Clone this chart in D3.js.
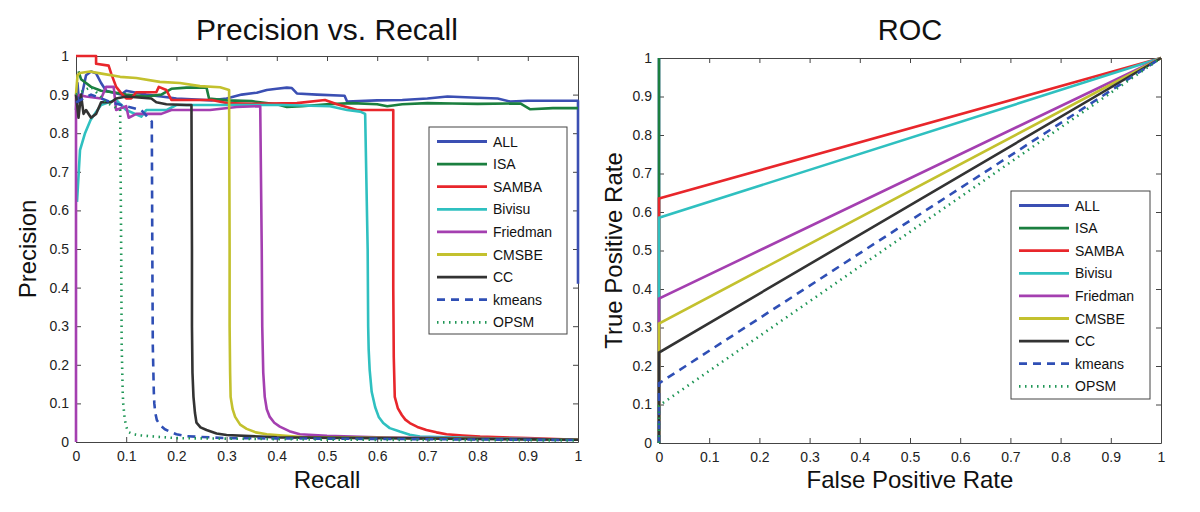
<!DOCTYPE html>
<html><head><meta charset="utf-8">
<script src="https://cdn.jsdelivr.net/npm/d3@7"></script>
<style>body{margin:0;background:#fff} svg{font-family:"Liberation Sans",Arial,sans-serif}</style>
</head><body><svg id="c" width="1200" height="512"></svg>
<script>
const seriesNames = ["ALL","ISA","SAMBA","Bivisu","Friedman","CMSBE","CC","kmeans","OPSM"];
const seriesColors = ["#3b4fb3","#1b7f3f","#e8262b","#2fc0c0","#a43fb0","#c3c12e","#333333","#2f4fb5","#1f9656"];
const seriesDash = [null,null,null,null,null,null,null,"8,6","1.5,4.5"];
const tickValues = [0,0.1,0.2,0.3,0.4,0.5,0.6,0.7,0.8,0.9,1];
const tickLabels = ["0","0.1","0.2","0.3","0.4","0.5","0.6","0.7","0.8","0.9","1"];

// Precision vs Recall: [recall, precision]
const prALL = [[0,0.86],[0.003,0.93],[0.006,0.88],[0.012,0.9],[0.02,0.95],[0.03,0.96],[0.04,0.955],[0.05,0.93],[0.06,0.91],[0.075,0.905],[0.09,0.9],[0.1,0.91],[0.12,0.905],[0.14,0.9],[0.17,0.895],[0.2,0.89],[0.23,0.888],[0.27,0.885],[0.3,0.89],[0.33,0.9],[0.36,0.905],[0.38,0.912],[0.4,0.915],[0.42,0.918],[0.43,0.917],[0.44,0.903],[0.48,0.9],[0.535,0.897],[0.54,0.882],[0.6,0.885],[0.65,0.886],[0.7,0.89],[0.74,0.895],[0.8,0.892],[0.84,0.89],[0.865,0.882],[0.9,0.884],[0.95,0.884],[1,0.884],[1,0.41]];
const prISA = [[0.005,0.96],[0.01,0.94],[0.02,0.93],[0.03,0.92],[0.05,0.91],[0.08,0.905],[0.1,0.9],[0.14,0.895],[0.17,0.9],[0.19,0.915],[0.22,0.918],[0.26,0.918],[0.265,0.89],[0.3,0.885],[0.35,0.883],[0.4,0.875],[0.42,0.868],[0.45,0.87],[0.5,0.875],[0.55,0.878],[0.6,0.875],[0.62,0.87],[0.65,0.875],[0.7,0.878],[0.75,0.877],[0.8,0.876],[0.885,0.877],[0.905,0.862],[0.95,0.865],[1,0.865]];
const prSAMBA = [[0,1],[0.04,1],[0.04,0.98],[0.065,0.975],[0.07,0.955],[0.08,0.92],[0.09,0.904],[0.1,0.89],[0.11,0.89],[0.12,0.906],[0.16,0.906],[0.165,0.92],[0.18,0.912],[0.19,0.886],[0.27,0.886],[0.3,0.878],[0.35,0.876],[0.44,0.878],[0.496,0.886],[0.52,0.875],[0.56,0.86],[0.632,0.86],[0.632,0.4],[0.633,0.22],[0.635,0.117],[0.641,0.088],[0.649,0.07],[0.656,0.058],[0.665,0.049],[0.68,0.039],[0.698,0.031],[0.718,0.025],[0.738,0.02],[0.77,0.017],[0.805,0.014],[0.9,0.01],[1,0.006]];
const prBivisu = [[0.002,0.622],[0.008,0.756],[0.018,0.8],[0.029,0.834],[0.04,0.855],[0.05,0.873],[0.065,0.88],[0.08,0.886],[0.1,0.86],[0.13,0.843],[0.14,0.86],[0.18,0.86],[0.2,0.873],[0.31,0.873],[0.41,0.873],[0.506,0.87],[0.54,0.86],[0.566,0.856],[0.576,0.85],[0.581,0.5],[0.582,0.3],[0.583,0.24],[0.585,0.187],[0.589,0.13],[0.596,0.09],[0.603,0.065],[0.612,0.049],[0.625,0.036],[0.645,0.027],[0.665,0.019],[0.685,0.014],[0.8,0.01],[1,0.006]];
const prFriedman = [[0,0],[0,0.9],[0.02,0.895],[0.05,0.89],[0.06,0.92],[0.075,0.92],[0.08,0.86],[0.1,0.87],[0.105,0.84],[0.12,0.85],[0.17,0.85],[0.19,0.86],[0.267,0.86],[0.32,0.868],[0.367,0.87],[0.37,0.5],[0.371,0.3],[0.373,0.18],[0.376,0.117],[0.38,0.085],[0.386,0.065],[0.395,0.05],[0.406,0.04],[0.425,0.028],[0.446,0.02],[0.5,0.016],[0.6,0.012],[1,0.006]];
const prCMSBE = [[0,0.9],[0.003,0.95],[0.008,0.956],[0.028,0.96],[0.048,0.955],[0.088,0.946],[0.12,0.943],[0.167,0.933],[0.207,0.93],[0.247,0.922],[0.287,0.919],[0.305,0.912],[0.306,0.5],[0.306,0.3],[0.307,0.18],[0.308,0.117],[0.312,0.085],[0.317,0.065],[0.327,0.045],[0.34,0.034],[0.358,0.025],[0.38,0.02],[0.45,0.013],[1,0.006]];
const prCC = [[0,0.9],[0.005,0.84],[0.01,0.9],[0.015,0.85],[0.02,0.86],[0.03,0.84],[0.04,0.85],[0.05,0.88],[0.07,0.88],[0.08,0.89],[0.1,0.895],[0.15,0.89],[0.16,0.88],[0.18,0.875],[0.22,0.873],[0.23,0.873],[0.231,0.5],[0.231,0.3],[0.232,0.18],[0.234,0.117],[0.237,0.075],[0.24,0.05],[0.248,0.038],[0.26,0.031],[0.28,0.022],[0.3,0.018],[0.4,0.012],[1,0.006]];
const prKmeans = [[0,0.88],[0.03,0.9],[0.07,0.88],[0.1,0.87],[0.13,0.86],[0.151,0.83],[0.152,0.5],[0.153,0.25],[0.155,0.13],[0.156,0.1],[0.158,0.075],[0.161,0.057],[0.168,0.043],[0.177,0.033],[0.187,0.027],[0.2,0.02],[0.22,0.015],[0.3,0.01],[0.6,0.008],[1,0.005]];
const prOPSM = [[0,0.9],[0.03,0.92],[0.06,0.88],[0.088,0.86],[0.09,0.5],[0.091,0.25],[0.093,0.13],[0.094,0.1],[0.097,0.06],[0.1,0.04],[0.104,0.026],[0.115,0.02],[0.13,0.017],[0.147,0.015],[0.2,0.01],[0.5,0.006],[1,0.004]];
const prSeries = [prALL,prISA,prSAMBA,prBivisu,prFriedman,prCMSBE,prCC,prKmeans,prOPSM];

// ROC: true positive rate at FPR = 0 (lines then go to (1,1))
const rocStart = [1,1,0.635,0.585,0.375,0.31,0.235,0.155,0.097];

const svg = d3.select("#c");

function panel(opts){
  const g = svg.append("g");
  const x = d3.scaleLinear().domain([0,1]).range([opts.x0,opts.x1]);
  const y = d3.scaleLinear().domain([0,1]).range([opts.y1,opts.y0]);
  const fmt = (d,i)=>tickLabels[i];
  const ax = [
    g.append("g").attr("transform",`translate(0,${opts.y1})`).call(d3.axisBottom(x).tickValues(tickValues).tickFormat(fmt).tickSizeInner(-5).tickSizeOuter(0).tickPadding(9)),
    g.append("g").attr("transform",`translate(${opts.x0},0)`).call(d3.axisLeft(y).tickValues(tickValues).tickFormat(fmt).tickSizeInner(-5).tickSizeOuter(0).tickPadding(7)),
    g.append("g").attr("transform",`translate(0,${opts.y0})`).call(d3.axisTop(x).tickValues(tickValues).tickFormat("").tickSizeInner(-5).tickSizeOuter(0)),
    g.append("g").attr("transform",`translate(${opts.x1},0)`).call(d3.axisRight(y).tickValues(tickValues).tickFormat("").tickSizeInner(-5).tickSizeOuter(0))
  ];
  ax.forEach(a=>{
    a.select(".domain").attr("stroke","#444");
    a.selectAll(".tick line").attr("stroke","#444");
    a.selectAll(".tick text").attr("fill","#222").style("font-size","14px").style("font-family","Liberation Sans, Arial, sans-serif");
  });
  g.append("text").attr("x",(opts.x0+opts.x1)/2).attr("y",40).attr("text-anchor","middle")
    .style("font-size",opts.tsize).attr("fill","#111").text(opts.title);
  g.append("text").attr("x",(opts.x0+opts.x1)/2).attr("y",488).attr("text-anchor","middle")
    .style("font-size","24px").attr("fill","#111").text(opts.xlabel);
  g.append("text").attr("transform",`translate(${opts.ylx},${(opts.y0+opts.y1)/2}) rotate(-90)`).attr("text-anchor","middle")
    .style("font-size","24px").attr("fill","#111").text(opts.ylabel);
  return {g,x,y};
}

// Left: Precision vs Recall
const L = panel({x0:76,x1:578,y0:56,y1:442,title:"Precision vs. Recall",tsize:"30px",xlabel:"Recall",ylabel:"Precision",ylx:36});
const lineL = d3.line().x(d=>L.x(d[0])).y(d=>L.y(d[1]));
prSeries.forEach((s,i)=>{
  L.g.append("path").attr("d",lineL(s)).attr("fill","none").attr("stroke",seriesColors[i])
    .attr("stroke-width",2.6).attr("stroke-dasharray",seriesDash[i]).attr("stroke-linejoin","round");
});

// Right: ROC
const R = panel({x0:659,x1:1161,y0:58,y1:443,title:"ROC",tsize:"29px",xlabel:"False Positive Rate",ylabel:"True Positive Rate",ylx:622});
const lineR = d3.line().x(d=>R.x(d[0])).y(d=>R.y(d[1]));
rocStart.forEach((v,i)=>{
  const pts = v >= 1 ? [[0,0],[0,v]] : [[0,0],[0,v],[1,1]];
  R.g.append("path").attr("d",lineR(pts)).attr("fill","none").attr("stroke",seriesColors[i])
    .attr("stroke-width",2.6).attr("stroke-dasharray",seriesDash[i]);
});

function legend(g,x,y,w,h){
  const lg = g.append("g").attr("transform",`translate(${x},${y})`);
  lg.append("rect").attr("width",w).attr("height",h).attr("fill","#fff").attr("stroke","#444").attr("stroke-width",1);
  seriesNames.forEach((n,i)=>{
    const yy = 14.5 + i*22.6;
    lg.append("line").attr("x1",8).attr("x2",58).attr("y1",yy).attr("y2",yy)
      .attr("stroke",seriesColors[i]).attr("stroke-width",2.8).attr("stroke-dasharray",seriesDash[i]);
    lg.append("text").attr("x",64).attr("y",yy+5).style("font-size","14px").attr("fill","#111").text(n);
  });
}
legend(L.g,429,127,138,207);
legend(R.g,1011,191,139,208);
</script></body></html>
